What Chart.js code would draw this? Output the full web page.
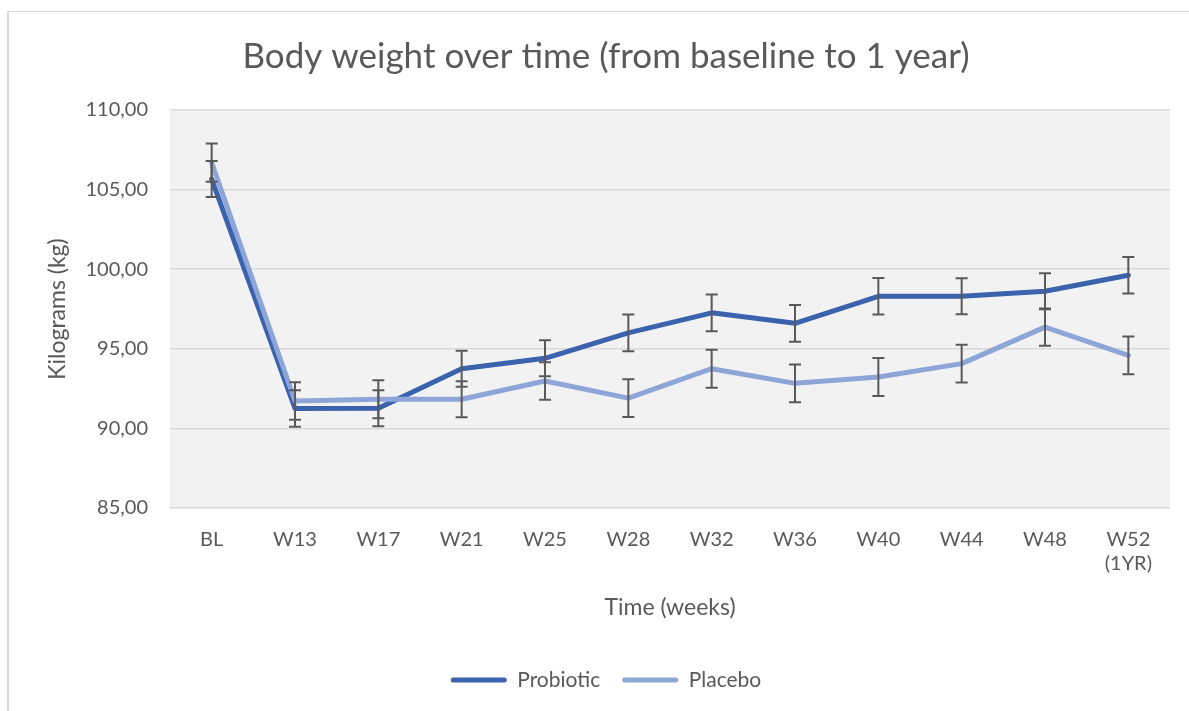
<!DOCTYPE html>
<html>
<head>
<meta charset="utf-8">
<script src="https://cdn.jsdelivr.net/npm/chart.js@4.4.1/dist/chart.umd.min.js"></script>
<style>
  html, body { margin: 0; padding: 0; background: #fff; }
  #wrap { position: relative; width: 1189px; height: 711px; }
  #frame { position: absolute; left: 7px; top: 11px; right: 0; bottom: 0;
           border-left: 2px solid #d9d9d9; border-top: 1px solid #d9d9d9; }
  #chart { position: absolute; left: 0; top: 0; }
</style>
</head>
<body>
<div id="wrap">
  <div id="frame"></div>
  <canvas id="chart" width="1189" height="711"></canvas>
</div>
<script>
const weeks = ['BL', 'W13', 'W17', 'W21', 'W25', 'W28', 'W32', 'W36', 'W40', 'W44', 'W48', ['W52', '(1YR)']];

const probiotic = [105.66, 91.25, 91.27, 93.75, 94.40, 96.00, 97.26, 96.60, 98.30, 98.30, 98.62, 99.62];
const probioticErr = [1.13, 1.15, 1.13, 1.13, 1.13, 1.15, 1.15, 1.15, 1.14, 1.13, 1.13, 1.14];

const placebo = [106.70, 91.72, 91.83, 91.83, 92.98, 91.90, 93.75, 92.83, 93.23, 94.07, 96.36, 94.59];
const placeboErr = [1.20, 1.18, 1.19, 1.13, 1.18, 1.18, 1.19, 1.19, 1.19, 1.19, 1.17, 1.19];

const yTicks = [85, 90, 95, 100, 105, 110];

const textColor = '#595959';
const font = 'Lato, "Open Sans", sans-serif';

// grey plot area like the Excel one
const plotBg = {
    id: 'plotBg',
    beforeDraw(chart) {
        const a = chart.chartArea;
        chart.ctx.save();
        chart.ctx.fillStyle = '#f2f2f2';
        chart.ctx.fillRect(a.left, a.top, a.right - a.left, a.bottom - a.top);
        chart.ctx.restore();
    }
};

// simple error bars, drawn through the scales
const errorBars = {
    id: 'errorBars',
    afterDatasetsDraw(chart) {
        const ctx = chart.ctx;
        const x = chart.scales.x, y = chart.scales.y;
        ctx.save();
        ctx.strokeStyle = '#595959';
        ctx.lineWidth = 2;
        chart.data.datasets.forEach(ds => {
            ds.data.forEach((v, i) => {
                const px = x.getPixelForValue(i);
                const top = y.getPixelForValue(v + ds.err[i]);
                const bot = y.getPixelForValue(v - ds.err[i]);
                ctx.beginPath();
                ctx.moveTo(px, top); ctx.lineTo(px, bot);
                ctx.moveTo(px - 6, top); ctx.lineTo(px + 6, top);
                ctx.moveTo(px - 6, bot); ctx.lineTo(px + 6, bot);
                ctx.stroke();
            });
        });
        ctx.restore();
    }
};

new Chart(document.getElementById('chart').getContext('2d'), {
    type: 'line',
    data: {
        labels: weeks,
        datasets: [
            {
                label: 'Probiotic',
                data: probiotic,
                err: probioticErr,
                borderColor: '#3A62AD',
                backgroundColor: '#3A62AD',
                order: 1
            },
            {
                label: 'Placebo',
                data: placebo,
                err: placeboErr,
                borderColor: '#8EA5D8',
                backgroundColor: '#8EA5D8',
                order: 0
            }
        ]
    },
    options: {
        responsive: false,
        animation: false,
        layout: { padding: { top: 0, left: 42, right: 19, bottom: 10.5 } },
        elements: {
            line: { borderWidth: 5, tension: 0, borderJoinStyle: 'round', borderCapStyle: 'round' },
            point: { radius: 0 }
        },
        scales: {
            x: {
                offset: true,
                grid: { display: false, drawTicks: false },
                border: { display: false },
                ticks: { color: textColor, font: { family: font, size: 20 }, padding: 20, maxRotation: 0 },
                title: {
                    display: true, text: 'Time (weeks)', color: textColor,
                    font: { family: font, size: 23 }, padding: { top: 0, bottom: 26.3 }
                },
                afterFit(s) { s.height = 139.5; }
            },
            y: {
                min: 85, max: 110,
                afterBuildTicks(s) { s.ticks = yTicks.map(v => ({ value: v })); },
                grid: { color: '#d9d9d9', lineWidth: 1.5, drawTicks: false },
                border: { display: false },
                ticks: {
                    color: textColor, font: { family: font, size: 20 }, padding: 22,
                    callback: v => v.toFixed(2).replace('.', ',')
                },
                title: {
                    display: true, text: 'Kilograms (kg)', color: textColor,
                    font: { family: font, size: 23 }, padding: { top: 2.2, bottom: 0 }
                },
                afterFit(s) { s.width = 128; }
            }
        },
        plugins: {
            title: {
                display: true,
                text: 'Body weight over time (from baseline to 1 year)',
                color: textColor,
                font: { family: font, size: 35, weight: 'normal' },
                padding: { top: 36, bottom: 32 }
            },
            legend: {
                position: 'bottom',
                labels: {
                    color: textColor,
                    font: { family: font, size: 21 },
                    boxWidth: 56, boxHeight: 5,
                    padding: 22,
                    useBorderRadius: true, borderRadius: 2.5,
                    sort: (a, b) => a.datasetIndex - b.datasetIndex,
                    generateLabels(chart) {
                        return Chart.defaults.plugins.legend.labels.generateLabels(chart)
                            .map(item => Object.assign(item, { lineWidth: 0 }));
                    }
                }
            },
            tooltip: { enabled: false }
        }
    },
    plugins: [plotBg, errorBars]
});
</script>
</body>
</html>
